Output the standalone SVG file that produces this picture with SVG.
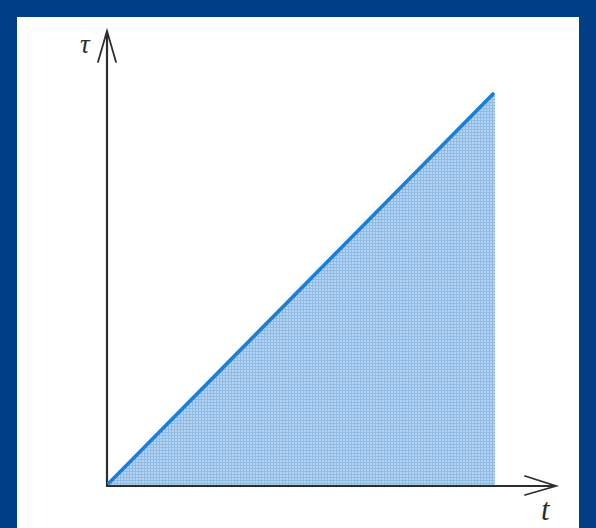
<svg xmlns="http://www.w3.org/2000/svg" width="596" height="528" viewBox="0 0 596 528">
  <style>
    .axis { stroke: #2e2e2e; stroke-width: 2.2; fill: none; }
    .head { stroke: #2e2e2e; stroke-width: 1.8; fill: none; stroke-linecap: round; stroke-linejoin: miter; }
    .diag { stroke: #1a7fd8; stroke-width: 3.6; fill: none; stroke-linecap: round; }
    .lbl { font-family: "Liberation Serif", "DejaVu Serif", serif; font-style: italic; fill: #2e2e2e; }
  </style>
  <defs>
    <pattern id="hatch" width="3" height="3" patternUnits="userSpaceOnUse">
      <rect width="3" height="3" fill="#b4d4f1"/>
      <path d="M0 0.5H3M0.5 0V3" stroke="#8fbae4" stroke-width="1"/>
    </pattern>
  </defs>
  <rect x="0" y="0" width="596" height="528" fill="#003f87"/>
  <rect x="17" y="17" width="562" height="511" fill="#ffffff"/>
  <g id="region">
    <polygon points="108,485 493,94 495,94 495,485" fill="url(#hatch)"/>
  </g>
  <g id="connectors">
    <line class="axis" x1="107" y1="487" x2="107" y2="34"/>
    <path class="head" d="M98,62 L107,31 L116,62"/>
    <line class="axis" x1="106" y1="486" x2="554" y2="486"/>
    <path class="head" d="M525,476 L556,486 L525,495"/>
    <line class="diag" x1="109" y1="483" x2="493" y2="94"/>
  </g>
  <g id="label-tau">
    <text class="lbl" x="80" y="53" font-size="27">τ</text>
  </g>
  <g id="label-t">
    <text class="lbl" x="541" y="520" font-size="31">t</text>
  </g>
</svg>
